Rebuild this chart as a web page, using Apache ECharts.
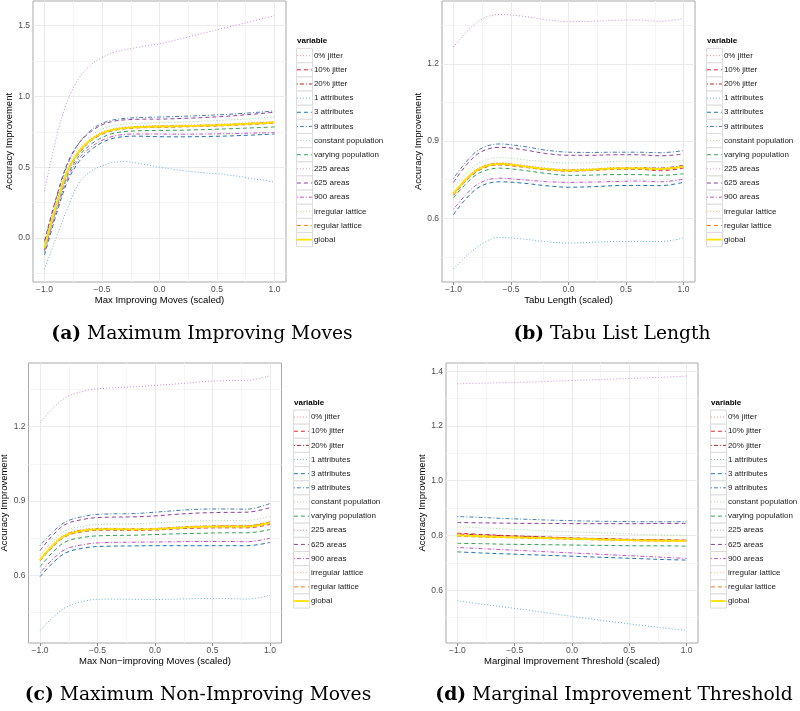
<!DOCTYPE html>
<html>
<head>
<meta charset="utf-8">
<script src="https://cdn.jsdelivr.net/npm/echarts@6/dist/echarts.min.js"></script>
<style>html,body{margin:0;padding:0;background:#fff}#c{width:800px;height:711px}</style>
</head>
<body>
<div id="c"></div>
<script>
// ---------- data ----------
const seriesNames = ['0% jitter','10% jitter','20% jitter','1 attributes','3 attributes','9 attributes',
  'constant population','varying population','225 areas','625 areas','900 areas',
  'irregular lattice','regular lattice','global'];

const xA = [-1,-0.9,-0.8,-0.7,-0.6,-0.5,-0.4,-0.3,-0.2,-0.1,0,0.1,0.2,0.3,0.4,0.5,0.6,0.7,0.8,0.9,1];
const xB = [-1,-0.8,-0.6,-0.4,-0.2,0,0.2,0.4,0.6,0.8,1];
const xC = [-1,-0.8,-0.6,-0.4,-0.2,0,0.2,0.4,0.6,0.8,1];
const xD = [-1,-0.8,-0.6,-0.4,-0.2,0,0.2,0.4,0.6,0.8,1];

// (a) Maximum Improving Moves — values in legend order
const valuesA = [
  [-0.06,0.23,0.48,0.62,0.70,0.746,0.771,0.783,0.789,0.792,0.794,0.795,0.797,0.799,0.801,0.803,0.806,0.81,0.814,0.818,0.823],
  [-0.08,0.21,0.46,0.60,0.685,0.735,0.762,0.774,0.78,0.783,0.785,0.786,0.788,0.79,0.792,0.794,0.797,0.801,0.805,0.809,0.814],
  [-0.07,0.22,0.47,0.61,0.692,0.742,0.767,0.779,0.785,0.788,0.79,0.791,0.793,0.795,0.797,0.799,0.802,0.806,0.81,0.814,0.819],
  [-0.22,0.0,0.21,0.39,0.47,0.51,0.535,0.54,0.53,0.515,0.50,0.488,0.477,0.467,0.46,0.455,0.445,0.435,0.42,0.41,0.395],
  [-0.12,0.16,0.40,0.54,0.62,0.675,0.705,0.717,0.72,0.718,0.716,0.715,0.715,0.716,0.717,0.719,0.721,0.724,0.727,0.731,0.735],
  [-0.03,0.27,0.52,0.67,0.76,0.81,0.835,0.845,0.85,0.853,0.855,0.857,0.86,0.863,0.866,0.87,0.874,0.879,0.885,0.891,0.898],
  [-0.05,0.24,0.50,0.64,0.72,0.77,0.795,0.805,0.81,0.812,0.815,0.817,0.82,0.823,0.826,0.83,0.834,0.838,0.843,0.849,0.855],
  [-0.09,0.20,0.44,0.58,0.66,0.71,0.74,0.752,0.757,0.759,0.76,0.761,0.762,0.764,0.766,0.769,0.772,0.775,0.778,0.781,0.785],
  [0.33,0.70,0.97,1.13,1.22,1.275,1.31,1.33,1.345,1.36,1.372,1.39,1.41,1.43,1.45,1.47,1.49,1.51,1.53,1.55,1.57],
  [-0.02,0.28,0.53,0.67,0.75,0.80,0.825,0.835,0.838,0.84,0.84,0.842,0.845,0.848,0.852,0.856,0.861,0.867,0.874,0.881,0.889],
  [-0.10,0.18,0.42,0.56,0.64,0.69,0.72,0.732,0.735,0.735,0.735,0.734,0.734,0.734,0.735,0.736,0.737,0.739,0.741,0.743,0.746],
  [-0.06,0.23,0.48,0.62,0.70,0.748,0.772,0.784,0.79,0.793,0.795,0.796,0.798,0.80,0.802,0.804,0.807,0.811,0.815,0.819,0.824],
  [-0.08,0.21,0.46,0.60,0.683,0.733,0.759,0.771,0.777,0.78,0.782,0.783,0.785,0.787,0.789,0.791,0.794,0.798,0.802,0.806,0.811],
  [-0.07,0.22,0.47,0.61,0.69,0.74,0.765,0.777,0.783,0.786,0.788,0.789,0.791,0.793,0.795,0.797,0.80,0.804,0.808,0.812,0.817]
];

// (b) Tabu List Length
const valuesB = [
  [0.70,0.79,0.815,0.806,0.795,0.79,0.792,0.797,0.798,0.796,0.805],
  [0.69,0.781,0.808,0.80,0.789,0.784,0.787,0.791,0.791,0.785,0.795],
  [0.697,0.788,0.813,0.804,0.793,0.788,0.79,0.795,0.797,0.795,0.806],
  [0.403,0.487,0.526,0.52,0.51,0.504,0.507,0.51,0.51,0.51,0.524],
  [0.615,0.715,0.742,0.737,0.727,0.721,0.723,0.727,0.728,0.727,0.74],
  [0.755,0.86,0.889,0.88,0.865,0.857,0.856,0.857,0.857,0.855,0.863],
  [0.72,0.81,0.836,0.828,0.82,0.815,0.816,0.82,0.82,0.818,0.826],
  [0.68,0.77,0.795,0.787,0.775,0.767,0.768,0.77,0.77,0.767,0.773],
  [1.265,1.36,1.392,1.385,1.372,1.364,1.365,1.369,1.37,1.365,1.377],
  [0.74,0.847,0.876,0.867,0.852,0.845,0.845,0.847,0.847,0.843,0.85],
  [0.635,0.73,0.756,0.75,0.743,0.74,0.741,0.743,0.745,0.742,0.752],
  [0.70,0.79,0.816,0.807,0.796,0.79,0.793,0.797,0.798,0.795,0.803],
  [0.69,0.782,0.808,0.799,0.789,0.783,0.786,0.79,0.792,0.789,0.80],
  [0.695,0.786,0.812,0.803,0.792,0.786,0.789,0.794,0.795,0.792,0.801]
];

// (c) Maximum Non-Improving Moves
const valuesC = [
  [0.665,0.76,0.787,0.79,0.789,0.79,0.795,0.799,0.80,0.80,0.815],
  [0.658,0.752,0.779,0.783,0.782,0.783,0.788,0.791,0.792,0.792,0.806],
  [0.663,0.757,0.785,0.789,0.788,0.789,0.794,0.798,0.799,0.799,0.815],
  [0.378,0.465,0.498,0.505,0.504,0.503,0.505,0.507,0.507,0.505,0.52],
  [0.595,0.685,0.712,0.718,0.719,0.72,0.72,0.72,0.72,0.72,0.733],
  [0.72,0.81,0.84,0.848,0.849,0.855,0.862,0.867,0.868,0.867,0.89],
  [0.68,0.775,0.80,0.807,0.808,0.812,0.817,0.82,0.822,0.822,0.838],
  [0.635,0.73,0.755,0.761,0.762,0.765,0.768,0.77,0.772,0.772,0.785],
  [1.215,1.31,1.345,1.355,1.36,1.366,1.372,1.38,1.385,1.386,1.405],
  [0.70,0.80,0.828,0.835,0.836,0.84,0.847,0.852,0.854,0.855,0.873],
  [0.61,0.70,0.726,0.733,0.734,0.735,0.736,0.737,0.737,0.736,0.75],
  [0.666,0.76,0.787,0.79,0.789,0.79,0.796,0.80,0.802,0.802,0.818],
  [0.658,0.751,0.778,0.783,0.783,0.785,0.792,0.797,0.80,0.80,0.816],
  [0.662,0.756,0.783,0.787,0.786,0.787,0.792,0.796,0.797,0.797,0.812]
];

// (d) Marginal Improvement Threshold
const valuesD = [
  [0.803,0.80,0.797,0.794,0.792,0.789,0.787,0.785,0.783,0.782,0.781],
  [0.808,0.804,0.80,0.797,0.794,0.791,0.789,0.787,0.785,0.784,0.783],
  [0.805,0.802,0.799,0.796,0.793,0.79,0.788,0.786,0.784,0.783,0.782],
  [0.561,0.55,0.539,0.528,0.516,0.504,0.493,0.482,0.472,0.462,0.453],
  [0.74,0.736,0.733,0.73,0.727,0.724,0.721,0.718,0.715,0.712,0.71],
  [0.869,0.866,0.862,0.859,0.856,0.854,0.852,0.851,0.85,0.85,0.85],
  [0.832,0.828,0.824,0.82,0.816,0.813,0.81,0.807,0.804,0.802,0.80],
  [0.771,0.77,0.768,0.767,0.766,0.765,0.764,0.763,0.762,0.762,0.761],
  [1.354,1.356,1.358,1.36,1.363,1.366,1.369,1.372,1.375,1.378,1.382],
  [0.847,0.846,0.845,0.844,0.844,0.843,0.843,0.843,0.843,0.844,0.844],
  [0.756,0.752,0.748,0.744,0.74,0.736,0.732,0.728,0.724,0.72,0.716],
  [0.802,0.799,0.796,0.793,0.79,0.788,0.786,0.784,0.782,0.78,0.779],
  [0.797,0.794,0.792,0.79,0.788,0.786,0.784,0.782,0.78,0.779,0.778],
  [0.80,0.797,0.794,0.792,0.79,0.788,0.786,0.784,0.782,0.781,0.78]
];

const xTicks = [-1,-0.5,0,0.5,1];
const xMinor = [-0.75,-0.25,0.25,0.75];
const yTicksA = [0,0.5,1,1.5];
const yMinorA = [-0.25,0.25,0.75,1.25];
const yTicksB = [0.6,0.9,1.2];
const yMinorB = [0.45,0.75,1.05,1.35];
const yTicksC = [0.6,0.9,1.2];
const yMinorC = [0.45,0.75,1.05,1.35];
const yTicksD = [0.6,0.8,1.0,1.2,1.4];
const yMinorD = [0.5,0.7,0.9,1.1,1.3];

const xTitles = ['Max Improving Moves (scaled)','Tabu Length (scaled)','Max Non\u2212improving Moves (scaled)','Marginal Improvement Threshold (scaled)'];
const captionTags = ['(a)','(b)','(c)','(d)'];
const captionTexts = ['Maximum Improving Moves','Tabu List Length','Maximum Non-Improving Moves','Marginal Improvement Threshold'];
const yTitle = 'Accuracy Improvement';
const legendTitle = 'variable';

// ---------- styles ----------
const lineStyles = [
  {color:'#F08A80', type:[1,2], width:1},
  {color:'#E3242B', type:[4,3], width:1},
  {color:'#B22222', type:[1,2,4,2], width:1},
  {color:'#6BAED6', type:[1,2], width:1},
  {color:'#2171B5', type:[4,3], width:1},
  {color:'#4A7DB5', type:[1,2,4,2], width:1},
  {color:'#A1D99B', type:[1,2], width:1},
  {color:'#31A354', type:[4,3], width:1},
  {color:'#CC8FCC', type:[1,2], width:1},
  {color:'#8E3F9E', type:[4,3], width:1},
  {color:'#C453C4', type:[1,2,4,2], width:1},
  {color:'#FDB97D', type:[1,2], width:1},
  {color:'#F07F1E', type:[4,3], width:1},
  {color:'#FFE000', type:'solid', width:1.8}
];

const panels = [
  {x:xA, vals:valuesA, yMin:-0.31, yMax:1.674, yTicks:yTicksA, yMinor:yMinorA,
   grid:{left:33, top:1, width:253, height:281}, legend:{left:296, top:48.6},
   cap:{left:202, top:325}},
  {x:xB, vals:valuesB, yMin:0.353, yMax:1.444, yTicks:yTicksB, yMinor:yMinorB,
   grid:{left:442, top:1, width:253, height:281}, legend:{left:706, top:48.6},
   cap:{left:612, top:325}},
  {x:xC, vals:valuesC, yMin:0.328, yMax:1.456, yTicks:yTicksC, yMinor:yMinorC,
   grid:{left:28.5, top:363, width:253, height:280}, legend:{left:293, top:410},
   cap:{left:198, top:686}},
  {x:xD, vals:valuesD, yMin:0.407, yMax:1.43, yTicks:yTicksD, yMinor:yMinorD,
   grid:{left:446, top:363, width:252, height:280}, legend:{left:710, top:410},
   cap:{left:614, top:686}}
];

const sans = 'Liberation Sans, Arial, sans-serif';
const fmt = v => (v < 0 ? '\u2212' : '') + Math.abs(v).toFixed(1);

const grids = [], xAxes = [], yAxes = [], series = [], legends = [], titles = [], graphics = [];
const ROW = 14.15;

panels.forEach((p, pi) => {
  grids.push(Object.assign({show:true, borderColor:'#a8a8a8', borderWidth:1, backgroundColor:'#fff',
    containLabel:false, outerBoundsMode:'none'}, p.grid));
  xAxes.push({type:'value', gridIndex:pi, min:-1.1, max:1.1,
    axisLine:{show:false}, splitLine:{show:false},
    axisTick:{show:true, length:3, lineStyle:{color:'#8a8a8a'}, customValues:xTicks},
    axisLabel:{fontSize:8.5, color:'#4d4d4d', fontFamily:sans, margin:3, customValues:xTicks, formatter:fmt},
    name:xTitles[pi], nameLocation:'middle', nameGap:13,
    nameTextStyle:{fontSize:9.5, color:'#000', fontFamily:sans}});
  yAxes.push({type:'value', gridIndex:pi, min:p.yMin, max:p.yMax,
    axisLine:{show:false}, splitLine:{show:false},
    axisTick:{show:true, length:3, lineStyle:{color:'#8a8a8a'}, customValues:p.yTicks},
    axisLabel:{fontSize:8.5, color:'#4d4d4d', fontFamily:sans, margin:3, customValues:p.yTicks, formatter:fmt},
    name:yTitle, nameLocation:'middle', nameGap:16.5,
    nameTextStyle:{fontSize:9.5, color:'#000', fontFamily:sans}});

  const gridLines = [];
  p.yMinor.forEach(v => gridLines.push({yAxis:v, lineStyle:{color:'#f5f5f5', width:1, type:'solid'}}));
  xMinor.forEach(v => gridLines.push({xAxis:v, lineStyle:{color:'#f5f5f5', width:1, type:'solid'}}));
  p.yTicks.forEach(v => gridLines.push({yAxis:v, lineStyle:{color:'#ebebeb', width:1, type:'solid'}}));
  xTicks.forEach(v => gridLines.push({xAxis:v, lineStyle:{color:'#ebebeb', width:1, type:'solid'}}));

  seriesNames.forEach((name, si) => {
    const s = {
      type:'line', name, xAxisIndex:pi, yAxisIndex:pi,
      data:p.x.map((xv, j) => [xv, p.vals[si][j]]),
      symbol:'none', smooth:0.35, animation:false,
      lineStyle:Object.assign({}, lineStyles[si]),
      itemStyle:{color:lineStyles[si].color},
      emphasis:{disabled:true}, z:3
    };
    if (si === 0) {
      s.markLine = {silent:true, symbol:'none', animation:false, label:{show:false},
        emphasis:{disabled:true}, data:gridLines, z:1};
    }
    series.push(s);
  });

  legends.push({orient:'vertical', left:p.legend.left, top:p.legend.top, padding:0,
    itemGap:0, itemWidth:15, itemHeight:ROW, selectedMode:false,
    data:seriesNames,
    textStyle:{fontSize:8, color:'#1a1a1a', fontFamily:sans, lineHeight:ROW, height:ROW, padding:[0,0,0,-3]},
    itemStyle:{opacity:0},
    lineStyle:{width:'inherit', type:'inherit'}});

  titles.push({text:legendTitle, left:p.legend.left + 1, top:p.legend.top - 11.5, padding:0,
    textStyle:{fontSize:8, fontWeight:'bold', color:'#000', fontFamily:sans}});
  titles.push({text:'{b|' + captionTags[pi] + '} ' + captionTexts[pi],
    left:p.cap.left, top:p.cap.top, textAlign:'center', padding:0,
    textStyle:{fontSize:18.7, fontWeight:'normal', color:'#000', fontFamily:'DejaVu Serif, serif',
      rich:{b:{fontSize:18.7, fontWeight:'bold', color:'#000', fontFamily:'DejaVu Serif, serif'}}}});

  for (let i = 0; i < seriesNames.length; i++) {
    graphics.push({type:'rect', z:0, silent:true,
      shape:{x:p.legend.left + 0.5, y:p.legend.top + i * ROW, width:16, height:ROW},
      style:{fill:'#fff', stroke:'#dcdcdc', lineWidth:1}});
  }
});

const chart = echarts.init(document.getElementById('c'), null, {renderer:'canvas'});
chart.setOption({
  animation:false,
  backgroundColor:'#fff',
  title:titles,
  grid:grids, xAxis:xAxes, yAxis:yAxes,
  legend:legends,
  graphic:graphics,
  series
});
</script>
</body>
</html>
